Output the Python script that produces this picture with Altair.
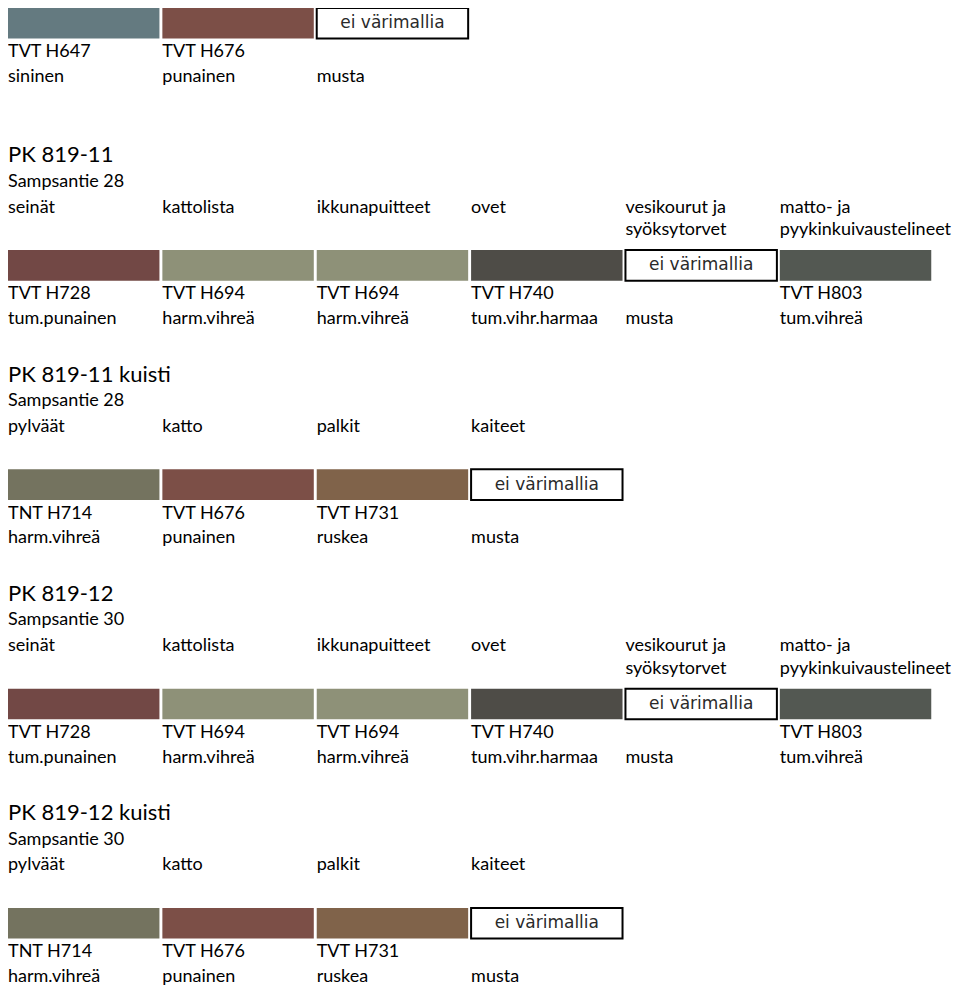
import altair as alt
import pandas as pd

# ---------------- data ----------------
section_titles = ["", "PK 819-11", "PK 819-11 kuisti", "PK 819-12", "PK 819-12 kuisti"]
section_subtitles = ["", "Sampsantie 28", "Sampsantie 28", "Sampsantie 30", "Sampsantie 30"]

parts_top = ["", "", ""]
codes_top = ["TVT H647", "TVT H676", ""]
names_top = ["sininen", "punainen", "musta"]
colors_top = ["#647a80", "#7c4f47", ""]

parts_house = ["seinät", "kattolista", "ikkunapuitteet", "ovet",
               "vesikourut ja\nsyöksytorvet", "matto- ja\npyykinkuivaustelineet"]
codes_house = ["TVT H728", "TVT H694", "TVT H694", "TVT H740", "", "TVT H803"]
names_house = ["tum.punainen", "harm.vihreä", "harm.vihreä", "tum.vihr.harmaa", "musta", "tum.vihreä"]
colors_house = ["#724845", "#8e9178", "#8e9178", "#4e4c47", "", "#535852"]

parts_porch = ["pylväät", "katto", "palkit", "kaiteet"]
codes_porch = ["TNT H714", "TVT H676", "TVT H731", ""]
names_porch = ["harm.vihreä", "punainen", "ruskea", "musta"]
colors_porch = ["#74735f", "#7c4f47", "#80634a", ""]

no_sample_label = "ei värimallia"

sections = [
    (parts_top, codes_top, names_top, colors_top),
    (parts_house, codes_house, names_house, colors_house),
    (parts_porch, codes_porch, names_porch, colors_porch),
    (parts_house, codes_house, names_house, colors_house),
    (parts_porch, codes_porch, names_porch, colors_porch),
]

# ---------------- layout (page units) ----------------
swatch_top = [3, 248, 470, 692, 914]
SW_H = 31
SW_W = 0.981          # in column units
TITLE_DY, SUB_DY, PART_DY, LINE_H = -96, -69, -43, 23
CODE_DY, NAME_DY = 45, 70

swatches, boxes, texts, titles = [], [], [], []
for s, (parts, codes, names, colors) in enumerate(sections):
    top = swatch_top[s]
    if section_titles[s]:
        titles.append(dict(x=0, y=top + TITLE_DY, label=section_titles[s]))
        texts.append(dict(x=0, y=top + SUB_DY, label=section_subtitles[s]))
    for c, (p, code, name, col) in enumerate(zip(parts, codes, names, colors)):
        rec = dict(x=c, x2=c + SW_W, y=top, y2=top + SW_H, xc=c + SW_W / 2, yc=top + SW_H / 2)
        if col:
            swatches.append(dict(rec, color=col))
        else:
            boxes.append(dict(rec, label=no_sample_label))
        for i, line in enumerate(p.split("\n")):
            if line:
                texts.append(dict(x=c, y=top + PART_DY + i * LINE_H, label=line))
        if code:
            texts.append(dict(x=c, y=top + CODE_DY, label=code))
        if name:
            texts.append(dict(x=c, y=top + NAME_DY, label=name))

sw_df = pd.DataFrame(swatches)
box_df = pd.DataFrame(boxes)
txt_df = pd.DataFrame(texts)
ttl_df = pd.DataFrame(titles)

W, H = 944, 979
xs = alt.Scale(domain=[0, 954 / 156], nice=False, zero=False)
ys = alt.Scale(domain=[3, 994], reverse=True, nice=False, zero=False)
X = lambda f: alt.X(f"{f}:Q", scale=xs, axis=None)
Y = lambda f: alt.Y(f"{f}:Q", scale=ys, axis=None)

sw = alt.Chart(sw_df).mark_rect(clip=False).encode(
    x=X("x"), x2="x2", y=Y("y"), y2="y2",
    color=alt.Color("color:N", scale=None),
)
bx = alt.Chart(box_df).mark_rect(fill="white", stroke="black", strokeWidth=2).encode(
    x=X("x"), x2="x2", y=Y("y"), y2="y2",
)
bt = alt.Chart(box_df).mark_text(font="DejaVu Sans", fontSize=17, color="#2a2a2a",
                                  align="center", baseline="middle").encode(
    x=X("xc"), y=Y("yc"), text="label:N"
)
tx = alt.Chart(txt_df).mark_text(font="Lato", fontSize=18, color="black",
                                  align="left", baseline="middle").encode(
    x=X("x"), y=Y("y"), text="label:N"
)
tt = alt.Chart(ttl_df).mark_text(font="Lato", fontSize=22, color="black",
                                  align="left", baseline="middle").encode(
    x=X("x"), y=Y("y"), text="label:N"
)

chart = alt.layer(sw, bx, bt, tx, tt).properties(
    width=W, height=H, padding=0, autosize=alt.AutoSizeParams(type="none")
).configure_view(stroke=None)

chart.save("out.html", embed_options={"renderer": "svg", "actions": False})
